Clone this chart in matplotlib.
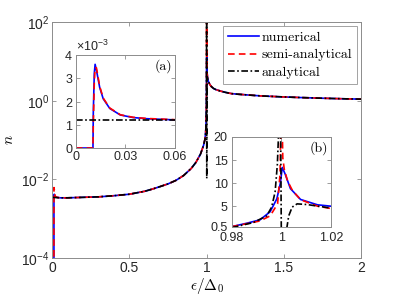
import matplotlib
matplotlib.use("Agg")
import matplotlib.pyplot as plt
from matplotlib.ticker import ScalarFormatter

plt.rcParams['font.family'] = ['Liberation Sans', 'DejaVu Sans']
plt.rcParams['mathtext.fontset'] = 'custom'
plt.rcParams['mathtext.rm'] = 'Liberation Sans'
plt.rcParams['mathtext.it'] = 'Liberation Sans:italic'

# main panel: n(eps), log scale
eps_num = [0.0, 0.0105, 0.011, 0.013, 0.016, 0.02, 0.03, 0.05, 0.1, 0.2, 0.3, 0.4, 0.5,
           0.6, 0.65, 0.7, 0.75, 0.8, 0.85, 0.9, 0.93, 0.96, 0.98, 0.99, 0.995, 0.998,
           0.999, 0.9995, 1.0002, 1.0005, 1.001, 1.003, 1.006, 1.01, 1.02, 1.03, 1.045,
           1.06, 1.09, 1.12, 1.16, 1.2, 1.26, 1.35, 1.48, 1.6, 1.75, 1.9, 2.0]
n_num = [1e-6, 1e-6, 3.9e-3, 4.2e-3, 3.8e-3, 3.6e-3, 3.5e-3, 3.4e-3, 3.4e-3, 3.5e-3,
         3.6e-3, 3.85e-3, 4.2e-3, 5.0e-3, 5.7e-3, 6.6e-3, 7.7e-3, 9.4e-3, 1.25e-2, 1.9e-2,
         2.7e-2, 4.4e-2, 7.4e-2, 0.11, 0.2, 0.6, 2.0, 8.0, 13.0, 13.0, 10.0, 5.0, 3.8,
         3.2, 2.6, 2.3, 2.05, 1.92, 1.76, 1.64, 1.52, 1.47, 1.41, 1.33, 1.26, 1.21,
         1.16, 1.12, 1.10]
n_semi = [1e-6, 1e-6, 6.2e-3, 5.5e-3, 4.2e-3, 3.7e-3, 3.5e-3, 3.4e-3, 3.4e-3, 3.5e-3,
          3.6e-3, 3.85e-3, 4.2e-3, 5.0e-3, 5.7e-3, 6.6e-3, 7.7e-3, 9.4e-3, 1.25e-2, 1.9e-2,
          2.7e-2, 4.4e-2, 7.4e-2, 0.11, 0.2, 0.6, 3.0, 200.0, 200.0, 15.0, 11.0, 5.0, 3.8,
          3.2, 2.6, 2.3, 2.05, 1.92, 1.76, 1.64, 1.52, 1.47, 1.41, 1.33, 1.26, 1.21,
          1.16, 1.12, 1.10]
eps_ana = [0.0, 0.05, 0.1, 0.2, 0.3, 0.4, 0.5, 0.6, 0.65, 0.7, 0.75, 0.8, 0.85, 0.9, 0.93,
           0.96, 0.98, 0.99, 0.995, 0.998, 0.999, 0.9995, 1.0005, 1.003, 1.006, 1.01, 1.02,
           1.03, 1.045, 1.06, 1.09, 1.12, 1.16, 1.2, 1.26, 1.35, 1.48, 1.6, 1.75, 1.9, 2.0]
n_ana = [3.5e-3, 3.4e-3, 3.4e-3, 3.5e-3, 3.6e-3, 3.85e-3, 4.2e-3, 5.0e-3, 5.7e-3, 6.6e-3,
         7.7e-3, 9.4e-3, 1.25e-2, 1.9e-2, 2.7e-2, 4.4e-2, 7.4e-2, 0.11, 0.2, 0.6, 3.0, 300.0,
         1.06e-2, 4.0, 3.8, 3.2, 2.6, 2.3, 2.05, 1.92, 1.76, 1.64, 1.52, 1.47, 1.41, 1.33,
         1.26, 1.21, 1.16, 1.12, 1.10]

# inset (a): low-energy zoom, linear
a_eps = [0.0, 0.0104, 0.0106, 0.0112, 0.0117, 0.0125, 0.0145, 0.0166, 0.0206, 0.027,
         0.0348, 0.043, 0.06]
a_num = [0.0, 0.0, 1.5e-3, 3.2e-3, 3.6e-3, 3.35e-3, 2.6e-3, 2.12e-3, 1.7e-3, 1.42e-3,
         1.31e-3, 1.26e-3, 1.21e-3]
a_semi = [0.0, 0.0, 1.0e-3, 2.8e-3, 3.45e-3, 3.45e-3, 2.65e-3, 2.15e-3, 1.72e-3, 1.43e-3,
          1.32e-3, 1.27e-3, 1.22e-3]
a_ana_eps = [0.0, 0.06]
a_ana = [1.2e-3, 1.2e-3]

# inset (b): around the gap edge
b_eps_num = [0.98, 0.986, 0.9914, 0.9955, 0.9982, 0.9996, 1.0004, 1.0016, 1.0037, 1.0078,
             1.0146, 1.02]
b_num = [0.57, 1.3, 2.04, 3.8, 6.6, 9.9, 13.4, 11.9, 8.8, 6.45, 5.3, 5.0]
b_eps_semi = [0.98, 0.986, 0.9914, 0.9955, 0.9985, 0.9995, 0.9999, 1.0003, 1.0006, 1.0012,
              1.0025, 1.0045, 1.0078, 1.0146, 1.02]
b_semi = [0.57, 1.2, 1.8, 2.9, 5.5, 12.0, 25.0, 25.0, 15.5, 13.0, 10.5, 8.4, 6.4, 5.0, 4.5]
b_eps_ana = [0.98, 0.9887, 0.9941, 0.9961, 0.9975, 0.9984, 0.999, 0.9995, 1.0, 1.0018,
             1.0023, 1.003, 1.0044, 1.0064, 1.0105, 1.016, 1.02]
b_ana = [0.35, 1.45, 2.9, 4.8, 8.1, 14.0, 22.0, 40.0, 0.0, 0.0, 0.5, 2.9, 4.8, 5.5, 5.35,
         4.9, 4.6]

spine_c = '0.55'
lw = 1.2
dash = (0, (4, 2.5))
dashdot = (0, (4, 1.5, 1, 1.5))


def style(ax, size):
    for s in ax.spines.values():
        s.set_color(spine_c)
        s.set_linewidth(0.7)
    ax.tick_params(direction='in', top=True, right=True, colors=spine_c,
                   labelcolor='0.15', labelsize=size, length=3, width=0.6, pad=2)
    ax.minorticks_off()


fig = plt.figure(figsize=(3.99, 2.99), dpi=100)
ax = fig.add_axes([0.131, 0.137, 0.774, 0.789])
ax.semilogy(eps_num, n_num, color='b', lw=lw, label='numerical')
ax.semilogy(eps_num, n_semi, color='r', lw=lw, ls=dash, label='semi-analytical')
ax.semilogy(eps_ana, n_ana, color='k', lw=lw, ls=dashdot, label='analytical')
ax.set_xlim(0, 2)
ax.set_ylim(1e-4, 1e2)
ax.set_xticks([0, 0.5, 1, 1.5, 2])
ax.set_xticklabels(['0', '0.5', '1', '1.5', '2'])
ax.set_yticks([1e-4, 1e-2, 1e0, 1e2])
style(ax, 10)
ax.set_xlabel(r'$\epsilon/\Delta_0$', fontsize=11, math_fontfamily='cm', labelpad=1)
ax.set_ylabel(r'$n$', fontsize=11, math_fontfamily='cm', labelpad=4)
leg = ax.legend(loc='upper right', prop={'family': 'cmr10', 'size': 10}, fancybox=False,
                handlelength=2.2, borderaxespad=0.3, labelspacing=0.35,
                handletextpad=0.2, borderpad=0.35)
leg.get_frame().set_edgecolor(spine_c)
leg.get_frame().set_linewidth(0.7)

# inset (a)
axa = fig.add_axes([0.19, 0.505, 0.248, 0.311])
axa.plot(a_eps, a_num, color='b', lw=lw)
axa.plot(a_eps, a_semi, color='r', lw=lw, ls=dash)
axa.plot(a_ana_eps, a_ana, color='k', lw=lw, ls=dashdot)
axa.set_xlim(0, 0.06)
axa.set_ylim(0, 4e-3)
axa.set_xticks([0, 0.03, 0.06])
axa.set_xticklabels(['0', '0.03', '0.06'])
axa.set_yticks([0, 1e-3, 2e-3, 3e-3, 4e-3])
fmt = ScalarFormatter(useMathText=True)
fmt.set_powerlimits((-2, 2))
axa.yaxis.set_major_formatter(fmt)
style(axa, 9)
axa.yaxis.get_offset_text().set_fontsize(9)
axa.yaxis.get_offset_text().set_color('0.15')
axa.text(0.97, 0.88, '(a)', transform=axa.transAxes, ha='right', va='center',
         family='cmr10', fontsize=10)

# inset (b)
axb = fig.add_axes([0.581, 0.241, 0.248, 0.301])
axb.plot(b_eps_num, b_num, color='b', lw=lw)
axb.plot(b_eps_semi, b_semi, color='r', lw=lw, ls=dash)
axb.plot(b_eps_ana, b_ana, color='k', lw=lw, ls=dashdot)
axb.set_xlim(0.98, 1.02)
axb.set_ylim(0.5, 20)
axb.set_xticks([0.98, 1.0, 1.02])
axb.set_xticklabels(['0.98', '1', '1.02'])
axb.set_yticks([0.5, 5, 10, 15, 20])
axb.set_yticklabels(['0.5', '5', '10', '15', '20'])
style(axb, 9)
axb.tick_params(axis='x', pad=4)
axb.tick_params(axis='y', pad=3)
axb.text(0.97, 0.88, '(b)', transform=axb.transAxes, ha='right', va='center',
         family='cmr10', fontsize=10)

fig.savefig('out.png', dpi=100)
